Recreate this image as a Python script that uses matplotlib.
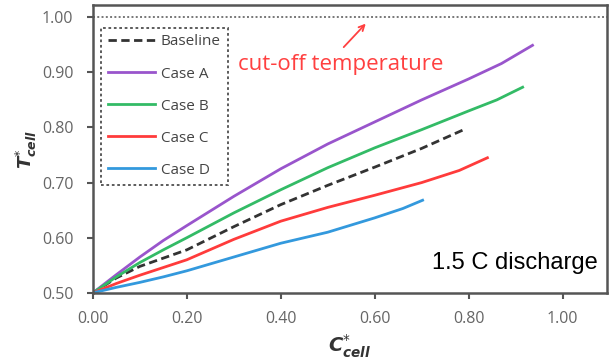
import numpy as np
import matplotlib
matplotlib.use("Agg")
import matplotlib.pyplot as plt

# Normalised capacity vs. normalised cell temperature, 1.5 C discharge
base_x = [0.0, 0.05, 0.10, 0.20, 0.30, 0.40, 0.50, 0.60, 0.70, 0.787]
base_y = [0.50, 0.527, 0.548, 0.578, 0.620, 0.660, 0.695, 0.728, 0.762, 0.795]

a_x = [0.0, 0.05, 0.10, 0.15, 0.20, 0.30, 0.40, 0.50, 0.60, 0.70, 0.80, 0.87, 0.936]
a_y = [0.50, 0.533, 0.565, 0.595, 0.622, 0.675, 0.725, 0.770, 0.810, 0.850, 0.888, 0.916, 0.949]

b_x = [0.0, 0.05, 0.10, 0.15, 0.20, 0.30, 0.40, 0.50, 0.60, 0.70, 0.80, 0.86, 0.915]
b_y = [0.50, 0.529, 0.555, 0.578, 0.600, 0.645, 0.687, 0.727, 0.763, 0.796, 0.830, 0.850, 0.873]

c_x = [0.0, 0.05, 0.10, 0.15, 0.20, 0.30, 0.40, 0.50, 0.60, 0.70, 0.78, 0.84]
c_y = [0.50, 0.517, 0.532, 0.546, 0.560, 0.597, 0.630, 0.655, 0.677, 0.700, 0.722, 0.745]

d_x = [0.0, 0.05, 0.10, 0.15, 0.20, 0.30, 0.40, 0.50, 0.60, 0.66, 0.702]
d_y = [0.50, 0.510, 0.519, 0.529, 0.540, 0.565, 0.590, 0.610, 0.636, 0.653, 0.668]

series = [
    ("Baseline", base_x, base_y, "#333333", (0, (3, 1.6))),
    ("Case A", a_x, a_y, "#9955cc", "-"),
    ("Case B", b_x, b_y, "#33bb66", "-"),
    ("Case C", c_x, c_y, "#ff3b3b", "-"),
    ("Case D", d_x, d_y, "#3399dd", "-"),
]

x_ticks = [0.0, 0.2, 0.4, 0.6, 0.8, 1.0]
y_ticks = [0.5, 0.6, 0.7, 0.8, 0.9, 1.0]
cutoff = 1.00

fig = plt.figure(figsize=(6.11, 3.62), dpi=100)
ax = fig.add_axes([0.152, 0.191, 0.841, 0.795])

for name, xs, ys, col, ls in series:
    ax.plot(xs, ys, color=col, lw=2.0, ls=ls, label=name,
            solid_joinstyle="round", dash_joinstyle="round")

ax.axhline(cutoff, color="#777777", lw=1.4, ls=(0, (1, 1.2)))

ax.set_xlim(0.0, 1.094)
ax.set_ylim(0.5, 1.022)
ax.set_xticks(x_ticks)
ax.set_yticks(y_ticks)
ax.set_xticklabels([f"{v:.2f}" for v in x_ticks])
ax.set_yticklabels([f"{v:.2f}" for v in y_ticks])
ax.tick_params(axis="both", direction="out", length=4, width=1.5,
               colors="#555555", labelsize=11.5)
ax.tick_params(axis="y", pad=10)
ax.tick_params(axis="x", pad=9)
for lab in ax.get_xticklabels() + ax.get_yticklabels():
    lab.set_fontfamily("Open Sans")
    lab.set_color("#666666")

for side in ["left", "bottom", "top", "right"]:
    ax.spines[side].set_color("#555555")
    ax.spines[side].set_linewidth(1.8)

ax.set_xlabel(r"$\mathbfit{C}^{*}_{\mathbfit{cell}}$", fontsize=14,
              color="#333333", labelpad=4)
ax.set_ylabel(r"$\mathbfit{T}^{*}_{\mathbfit{cell}}$", fontsize=13,
              color="#333333", labelpad=2)

leg = ax.legend(loc="upper left", bbox_to_anchor=(0.016, 0.922),
                frameon=True, fancybox=False, handlelength=3.1,
                labelspacing=1.12, borderpad=0.45, fontsize=11,
                handletextpad=0.35, borderaxespad=0)
leg.get_frame().set_edgecolor("#222222")
leg.get_frame().set_linestyle((0, (1.5, 1.5)))
leg.get_frame().set_linewidth(1.3)
for t in leg.get_texts():
    t.set_color("#444444")
    t.set_fontfamily("Open Sans")

ax.text(0.31, 0.914, "cut-off temperature", color="#ff4040", fontsize=16,
        fontfamily="Open Sans", ha="left", va="center")
ax.annotate("", xy=(0.585, 0.992), xytext=(0.53, 0.942),
            arrowprops=dict(arrowstyle="->", color="#ff4040", lw=1.3))

ax.text(0.983, 0.104, "1.5 C discharge", transform=ax.transAxes,
        fontsize=17, fontfamily="Liberation Sans", ha="right",
        va="center", color="black")

fig.savefig("out.png", dpi=100)
